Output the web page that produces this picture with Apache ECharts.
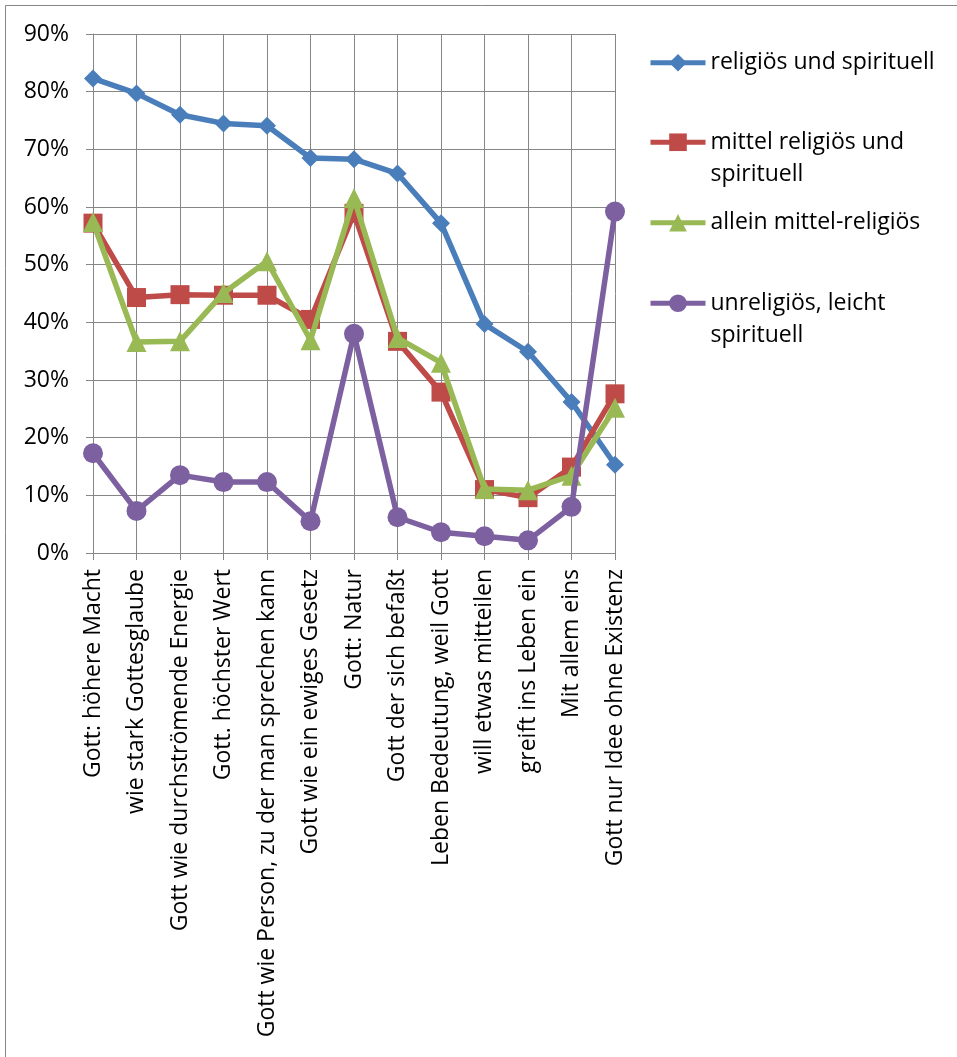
<!DOCTYPE html>
<html>
<head>
<meta charset="utf-8">
<script src="https://cdn.jsdelivr.net/npm/echarts@6/dist/echarts.min.js"></script>
<style>
html,body{margin:0;padding:0;background:#fff;}
#chart{width:957px;height:1057px;}
</style>
</head>
<body>
<div id="chart"></div>
<script>
const categories = [
  "Gott: höhere Macht",
  "wie stark Gottesglaube",
  "Gott wie durchströmende Energie",
  "Gott. höchster Wert",
  "Gott wie Person, zu der man sprechen kann",
  "Gott wie ein ewiges Gesetz",
  "Gott: Natur",
  "Gott der sich befaßt",
  "Leben Bedeutung, weil Gott",
  "will etwas mitteilen",
  "greift ins Leben ein",
  "Mit allem eins",
  "Gott nur Idee ohne Existenz"
];
const seriesNames = [
  "religiös und spirituell",
  "mittel religiös und spirituell",
  "allein mittel-religiös",
  "unreligiös, leicht spirituell"
];
const religioesSpirituell = [82.3, 79.7, 76.0, 74.5, 74.1, 68.5, 68.3, 65.8, 57.2, 39.7, 34.9, 26.2, 15.3];
const mittelReligioesSpirituell = [57.2, 44.3, 44.8, 44.7, 44.7, 40.5, 58.9, 36.7, 27.9, 11.0, 9.6, 14.9, 27.6];
const alleinMittelReligioes = [57.4, 36.6, 36.7, 45.1, 50.6, 36.9, 61.5, 37.3, 33.0, 11.1, 10.9, 13.4, 25.2];
const unreligioesLeichtSpirituell = [17.3, 7.3, 13.5, 12.3, 12.3, 5.5, 38.0, 6.2, 3.6, 2.9, 2.2, 8.0, 59.2];
const yTicks = [0, 10, 20, 30, 40, 50, 60, 70, 80, 90];

const FONT = "'Open Sans', sans-serif";
const FS = 23;
const colors = ['#4A7EBB', '#BE4B48', '#98B954', '#7D60A0'];
const symbols = ['diamond', 'rect', 'triangle', 'circle'];
const symbolSizes = [18, 19, 20, 20];
const dataSets = [religioesSpirituell, mittelReligioesSpirituell, alleinMittelReligioes, unreligioesLeichtSpirituell];
const legendText = {
  "religiös und spirituell": "religiös und spirituell",
  "mittel religiös und spirituell": "\nmittel religiös und\nspirituell",
  "allein mittel-religiös": "allein mittel-religiös",
  "unreligiös, leicht spirituell": "\nunreligiös, leicht\nspirituell"
};
const legendTops = [46.5, 93.5, 206.5, 254.5];

const chart = echarts.init(document.getElementById('chart'), null, {renderer: 'canvas'});
chart.setOption({
  animation: false,
  backgroundColor: '#fff',
  color: colors,
  graphic: [{
    type: 'rect',
    shape: {x: 5.5, y: 5.5, width: 960, height: 1060},
    style: {fill: 'none', stroke: '#868686', lineWidth: 1},
    silent: true, z: -10
  }],
  grid: {left: 93, right: 342, top: 34, bottom: 504, containLabel: false},
  legend: seriesNames.map((n, i) => ({
    data: [n],
    orient: 'vertical',
    left: 648,
    top: legendTops[i],
    padding: 0,
    itemWidth: 55,
    itemHeight: 22,
    lineStyle: {width: 5},
    formatter: name => legendText[name],
    textStyle: {fontFamily: FONT, fontSize: FS, color: '#000', lineHeight: 32.5},
    selectedMode: false
  })),
  xAxis: {
    type: 'category',
    data: categories,
    boundaryGap: false,
    axisLine: {lineStyle: {color: '#868686', width: 1}},
    axisTick: {show: true, length: 7, interval: 0, lineStyle: {color: '#868686'}},
    splitLine: {show: true, interval: 0, lineStyle: {color: '#868686', width: 1}},
    axisLabel: {
      interval: 0, rotate: 90, margin: 16,
      fontFamily: FONT, fontSize: FS, color: '#000'
    }
  },
  yAxis: {
    type: 'value',
    min: yTicks[0], max: yTicks[yTicks.length - 1], interval: 10,
    axisLine: {show: true, lineStyle: {color: '#868686', width: 1}},
    axisTick: {show: true, length: 7, lineStyle: {color: '#868686'}},
    splitLine: {show: true, lineStyle: {color: '#868686', width: 1}},
    axisLabel: {
      margin: 24, formatter: '{value}%',
      fontFamily: FONT, fontSize: FS, color: '#000'
    }
  },
  series: seriesNames.map((n, i) => ({
    name: n,
    type: 'line',
    data: dataSets[i],
    symbol: symbols[i],
    symbolSize: symbolSizes[i],
    showAllSymbol: true,
    lineStyle: {width: 5.5, color: colors[i]},
    itemStyle: {color: colors[i]},
    z: 2 + i
  }))
});
</script>
</body>
</html>
